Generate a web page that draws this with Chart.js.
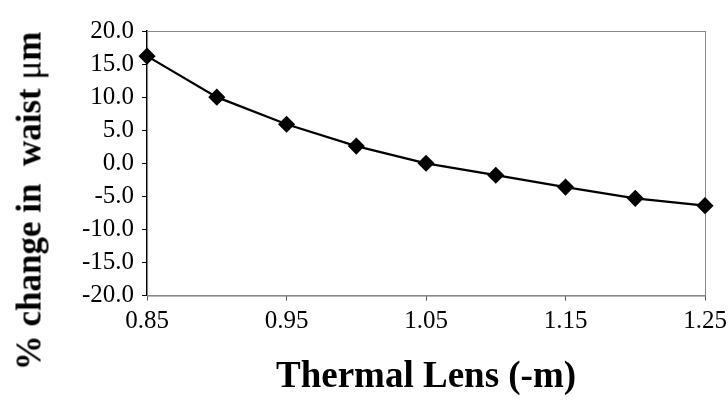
<!DOCTYPE html>
<html>
<head>
<meta charset="utf-8">
<script src="https://cdn.jsdelivr.net/npm/chart.js@4"></script>
<style>
  html, body { margin: 0; padding: 0; background: #fff; }
  #wrap { position: relative; width: 728px; height: 406px; }
  #ytitle {
    position: absolute; left: 29px; top: 201px;
    transform: translate(-50%, -50%) rotate(-90deg);
    white-space: pre;
    font-family: 'Liberation Serif', 'Times New Roman', serif;
    font-size: 35px; font-weight: bold; color: #000; line-height: 1;
  }
  #ytitle span { font-weight: normal; }
</style>
</head>
<body>
<div id="wrap">
  <canvas id="chart" width="728" height="406"></canvas>
  <div id="ytitle">% change in  waist <span>&#956;</span>m</div>
</div>
<script>
// values
const lensX = [0.85, 0.90, 0.95, 1.00, 1.05, 1.10, 1.15, 1.20, 1.25];
const waistChange = [16.2, 10.0, 5.9, 2.6, 0.0, -1.8, -3.6, -5.3, -6.4];
const xTicks = [0.85, 0.95, 1.05, 1.15, 1.25];
const yTicks = [-20, -15, -10, -5, 0, 5, 10, 15, 20];

const SERIF = "'Liberation Serif', 'Times New Roman', serif";

// thin frame round the plot area (top/right sides)
const frame = {
  id: "frame",
  beforeDatasetsDraw(chart) {
    const a = chart.chartArea, ctx = chart.ctx;
    ctx.save();
    ctx.strokeStyle = "#888";
    ctx.lineWidth = 1;
    ctx.strokeRect(a.left + 0.5, a.top + 0.5, a.right - a.left, a.bottom - a.top);
    ctx.restore();
  }
};

const points = lensX.map((x, i) => ({ x, y: waistChange[i] }));

new Chart(document.getElementById("chart"), {
  type: "line",
  data: {
    datasets: [{
      data: points,
      borderColor: "#000",
      backgroundColor: "#000",
      borderWidth: 2.2,
      pointStyle: "rectRot",
      pointRadius: 7,
      pointHoverRadius: 7,
      tension: 0,
      clip: false
    }]
  },
  options: {
    responsive: false,
    animation: false,
    devicePixelRatio: 1,
    layout: { padding: { left: 74, right: 23, top: 31, bottom: 6 } },
    plugins: { legend: { display: false }, tooltip: { enabled: false } },
    scales: {
      x: {
        type: "linear",
        min: 0.85,
        max: 1.25,
        afterBuildTicks: (s) => { s.ticks = xTicks.map(v => ({ value: v })); },
        afterFit: (s) => { s.paddingRight = 0; },
        border: { color: "#888", width: 1 },
        grid: { drawOnChartArea: false, color: "#555", tickLength: 5 },
        ticks: {
          color: "#000",
          font: { family: SERIF, size: 25 },
          padding: 6,
          maxRotation: 0,
          autoSkip: false,
          callback: (v) => Number(v).toFixed(2)
        },
        title: {
          display: true,
          text: "Thermal Lens (-m)",
          color: "#000",
          font: { family: SERIF, size: 37, weight: "bold" },
          padding: { top: 13, bottom: 0 }
        }
      },
      y: {
        min: -20,
        max: 20,
        afterBuildTicks: (s) => { s.ticks = yTicks.map(v => ({ value: v })); },
        border: { color: "#000", width: 1.5 },
        grid: { drawOnChartArea: false, color: "#000", tickLength: 5 },
        ticks: {
          color: "#000",
          font: { family: SERIF, size: 25 },
          padding: 8,
          autoSkip: false,
          callback: (v) => Number(v).toFixed(1)
        }
      }
    }
  },
  plugins: [frame]
});
</script>
</body>
</html>
